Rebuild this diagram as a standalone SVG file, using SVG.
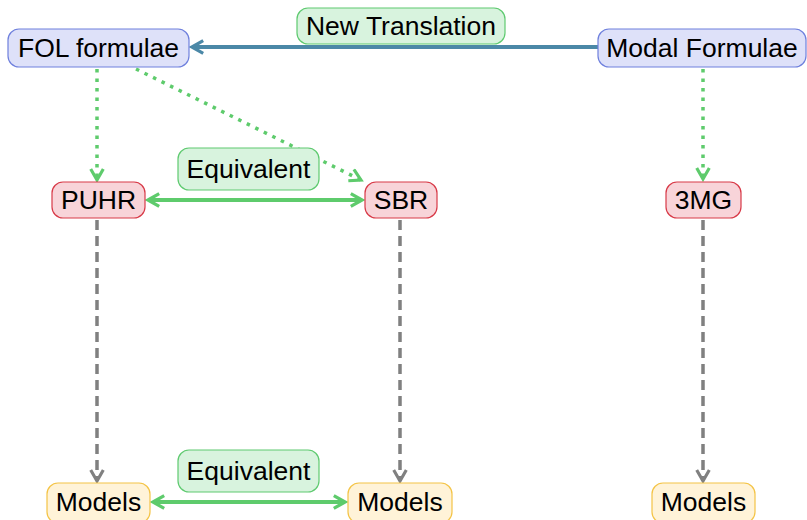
<svg xmlns="http://www.w3.org/2000/svg" width="807" height="520" viewBox="0 0 807 520">
<defs>
<style>
text{font-family:"Liberation Sans",Arial,sans-serif;font-size:26.5px;fill:#000;text-anchor:middle}
.blue{fill:#dee1f9;stroke:#6f80dd;stroke-width:1.2}
.red{fill:#f8d4d9;stroke:#d83a48;stroke-width:1.2}
.yel{fill:#fff3d8;stroke:#f4c447;stroke-width:1.2}
.lab{fill:#d8f3de;stroke:#5fca70;stroke-width:1.2}
.g{stroke:#5ecb6c;stroke-width:4;fill:none}
.gd{stroke:#5ecb6c;stroke-width:3.5;fill:none;stroke-dasharray:3.5 6}
.gr{stroke:#808080;stroke-width:3.5;fill:none;stroke-dasharray:10 6}
.bl{stroke:#4b88a7;stroke-width:4;fill:none}
</style>
<marker id="ag" viewBox="0 0 10 10" refX="8" refY="5" markerWidth="4" markerHeight="4" orient="auto-start-reverse" markerUnits="strokeWidth"><path d="M1,1 L8,5 L1,9" fill="none" stroke="#5ecb6c" stroke-width="2"/></marker>
<marker id="agd" viewBox="0 0 10 10" refX="8" refY="5" markerWidth="4.5" markerHeight="4.5" orient="auto" markerUnits="strokeWidth"><path d="M1,1 L8,5 L1,9" fill="none" stroke="#5ecb6c" stroke-width="2"/></marker>
<marker id="agr" viewBox="0 0 10 10" refX="8" refY="5" markerWidth="4.5" markerHeight="4.5" orient="auto" markerUnits="strokeWidth"><path d="M1,1 L8,5 L1,9" fill="none" stroke="#808080" stroke-width="2"/></marker>
<marker id="abl" viewBox="0 0 10 10" refX="8" refY="5" markerWidth="4" markerHeight="4" orient="auto" markerUnits="strokeWidth"><path d="M1,1 L8,5 L1,9" fill="none" stroke="#4b88a7" stroke-width="2"/></marker>
</defs>
<g id="connectors">
<line class="bl" x1="598" y1="47" x2="192" y2="47" marker-end="url(#abl)"/>
<line class="gd" x1="97" y1="69" x2="97" y2="180" marker-end="url(#agd)"/>
<line class="gd" x1="136" y1="69" x2="361" y2="180" marker-end="url(#agd)"/>
<line class="gd" x1="703" y1="69" x2="703" y2="179" marker-end="url(#agd)"/>
<line class="g" x1="148" y1="200" x2="362" y2="200" marker-start="url(#ag)" marker-end="url(#ag)"/>
<line class="g" x1="153" y1="502" x2="345" y2="502" marker-start="url(#ag)" marker-end="url(#ag)"/>
<line class="gr" x1="97" y1="220" x2="97" y2="481" marker-end="url(#agr)"/>
<line class="gr" x1="400" y1="220" x2="400" y2="481" marker-end="url(#agr)"/>
<line class="gr" x1="703" y1="220" x2="703" y2="481" marker-end="url(#agr)"/>
</g>
<g id="lbl-newtranslation"><rect class="lab" x="297" y="8" width="208" height="36" rx="11"/><text x="401" y="35">New Translation</text></g>
<g id="lbl-equiv1"><rect class="lab" x="178" y="148" width="141" height="42" rx="11"/><text x="248.5" y="178">Equivalent</text></g>
<g id="lbl-equiv2"><rect class="lab" x="178" y="450" width="141" height="42" rx="11"/><text x="248.5" y="480">Equivalent</text></g>
<g id="fol"><rect class="blue" x="8" y="29" width="181" height="38" rx="11"/><text x="98.5" y="57">FOL formulae</text></g>
<g id="modal"><rect class="blue" x="598" y="29" width="208" height="38" rx="11"/><text x="702" y="57">Modal Formulae</text></g>
<g id="puhr"><rect class="red" x="52" y="182" width="93" height="36" rx="11"/><text x="98.5" y="209">PUHR</text></g>
<g id="sbr"><rect class="red" x="365" y="182" width="72" height="36" rx="11"/><text x="401" y="209">SBR</text></g>
<g id="mg3"><rect class="red" x="666" y="182" width="75" height="36" rx="11"/><text x="703.5" y="209">3MG</text></g>
<g id="models1"><rect class="yel" x="47" y="483" width="103" height="40" rx="11"/><text x="98.5" y="511">Models</text></g>
<g id="models2"><rect class="yel" x="348" y="483" width="104" height="40" rx="11"/><text x="400" y="511">Models</text></g>
<g id="models3"><rect class="yel" x="652" y="483" width="103" height="40" rx="11"/><text x="703.5" y="511">Models</text></g>
</svg>
